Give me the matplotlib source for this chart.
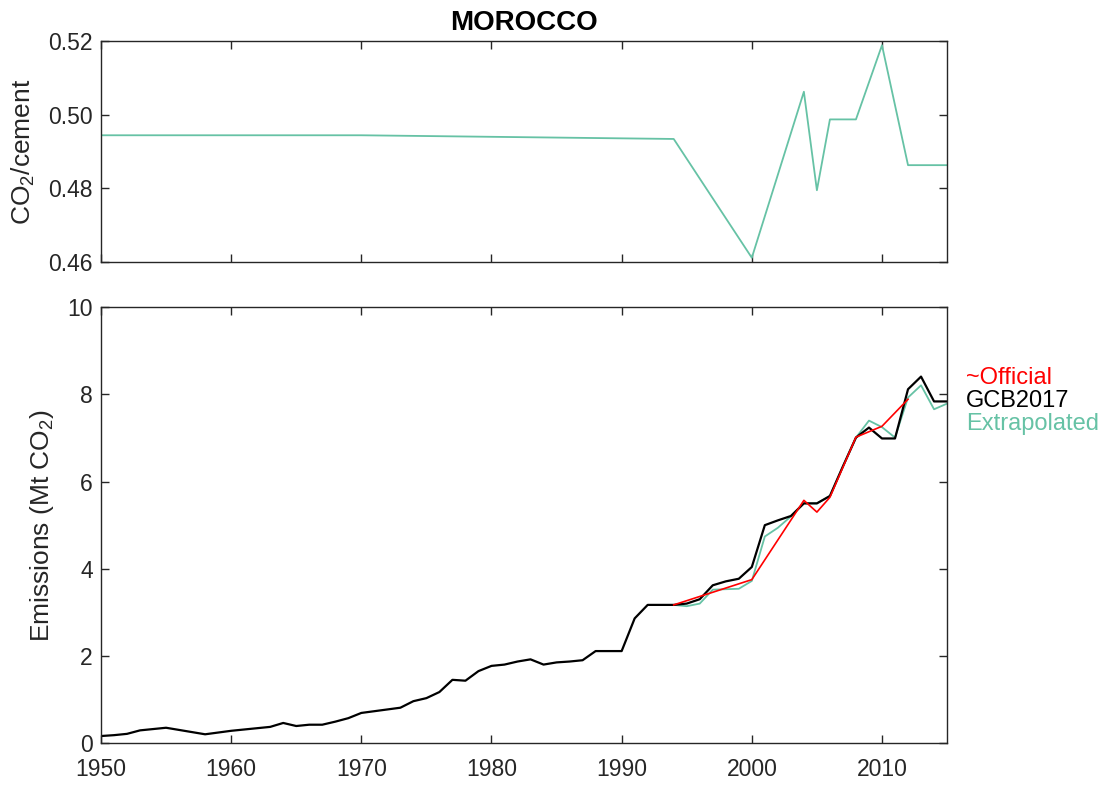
import numpy as np
import matplotlib
matplotlib.use("Agg")
import matplotlib.pyplot as plt

plt.rcParams['font.family'] = ['Liberation Sans', 'DejaVu Sans']
plt.rcParams['mathtext.fontset'] = 'custom'
plt.rcParams['mathtext.rm'] = 'Liberation Sans'
plt.rcParams['mathtext.it'] = 'Liberation Sans'

# CO2 per tonne cement (top panel)
ratio_years = [1950, 1970, 1994, 2000, 2004, 2005, 2006, 2008, 2010, 2012, 2015]
ratio_vals = [0.4944, 0.4944, 0.4934, 0.4612, 0.5062, 0.4795, 0.4987, 0.4987, 0.5188, 0.4863, 0.4863]

# emissions (bottom panel)
years = list(range(1950, 2016))
gcb2017 = [0.16, 0.18, 0.21, 0.29, 0.32, 0.35, 0.30, 0.25, 0.20, 0.24,
           0.28, 0.31, 0.34, 0.37, 0.46, 0.39, 0.42, 0.42, 0.49, 0.57,
           0.69, 0.73, 0.77, 0.81, 0.96, 1.03, 1.17, 1.45, 1.43, 1.65,
           1.77, 1.80, 1.87, 1.92, 1.80, 1.85, 1.87, 1.90, 2.11, 2.11,
           2.11, 2.86, 3.17, 3.17, 3.17, 3.20, 3.30, 3.62, 3.71, 3.77,
           4.04, 5.00, 5.11, 5.21, 5.50, 5.50, 5.67, 6.35, 7.01, 7.24,
           6.99, 6.99, 8.12, 8.41, 7.84, 7.84]
ext_years = list(range(1994, 2016))
ext_vals = [3.17, 3.14, 3.20, 3.52, 3.53, 3.54, 3.72, 4.74, 4.94, 5.20, 5.50,
            5.50, 5.67, 6.35, 7.01, 7.40, 7.25, 7.01, 7.93, 8.21, 7.66, 7.79]
off_years = [1994, 2000, 2004, 2005, 2006, 2008, 2010, 2012]
off_vals = [3.17, 3.75, 5.57, 5.30, 5.64, 7.02, 7.27, 7.89]

teal = '#66c2a5'
txt = '#262626'

fig = plt.figure(figsize=(11.06, 7.85), dpi=100)
ax1 = fig.add_axes([0.0913, 0.666, 0.765, 0.282])
ax2 = fig.add_axes([0.0913, 0.0535, 0.765, 0.555])

ax1.plot(ratio_years, ratio_vals, color=teal, lw=1.3)
ax1.set_xlim(1950, 2015)
ax1.set_ylim(0.46, 0.52)
ax1.set_yticks([0.46, 0.48, 0.50, 0.52])
ax1.set_yticklabels(['0.46', '0.48', '0.50', '0.52'])
ax1.set_xticks(range(1950, 2016, 10))
ax1.set_xticklabels([])
ax1.set_ylabel('CO$_2$/cement', fontsize=19, color=txt, labelpad=8)
ax1.set_title('MOROCCO', fontsize=20, fontweight='bold', pad=8)

ax2.plot(ext_years, ext_vals, color=teal, lw=1.3)
ax2.plot(years, gcb2017, color='black', lw=1.6)
ax2.plot(off_years, off_vals, color='red', lw=1.2)
ax2.set_xlim(1950, 2015)
ax2.set_ylim(0, 10)
ax2.set_yticks(range(0, 11, 2))
ax2.set_xticks(range(1950, 2016, 10))
ax2.set_ylabel('Emissions (Mt CO$_2$)', fontsize=19, color=txt, labelpad=8)

for ax in (ax1, ax2):
    ax.tick_params(direction='in', length=6, width=1, top=True, right=True,
                   labelsize=16.5, colors=txt, pad=6)
    for s in ax.spines.values():
        s.set_color(txt)
        s.set_linewidth(1)
ax2.tick_params(axis='x', pad=11)

ax2.text(1.0225, 0.837, '~Official', color='red', fontsize=17,
         transform=ax2.transAxes, va='center', ha='left')
ax2.text(1.0225, 0.784, 'GCB2017', color='black', fontsize=17,
         transform=ax2.transAxes, va='center', ha='left')
ax2.text(1.0225, 0.732, 'Extrapolated', color=teal, fontsize=17,
         transform=ax2.transAxes, va='center', ha='left')

fig.savefig('out.png', dpi=100)
